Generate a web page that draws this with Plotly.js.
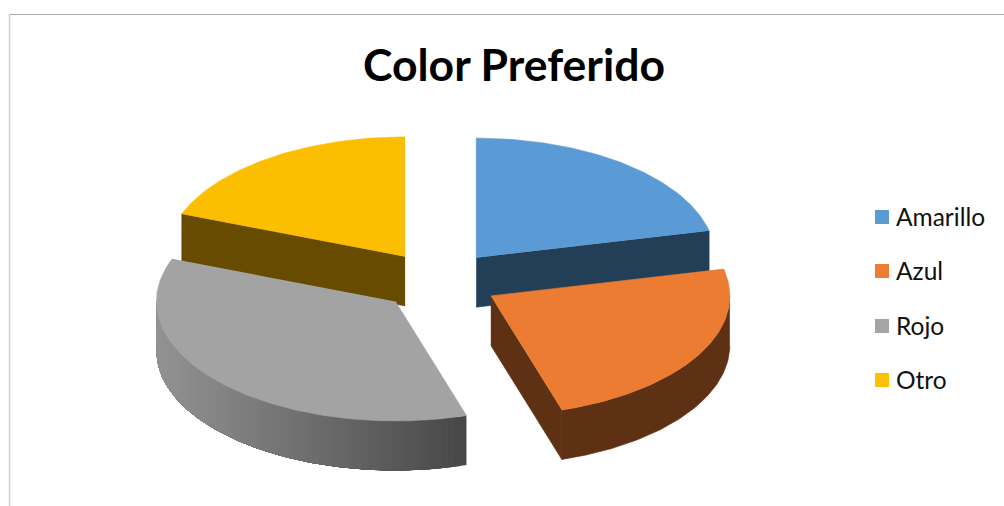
<!DOCTYPE html>
<html><head><meta charset="utf-8">
<script src="https://cdn.plot.ly/plotly-3.0.1.min.js"></script>
<style>html,body{margin:0;padding:0;background:#fff;overflow:hidden}#c{width:1004px;height:506px}</style>
</head><body><div id="c"></div>
<script>
const categories = ["Amarillo", "Azul", "Rojo", "Otro"];
const shares = [21.4, 23.8, 35.6, 19.2];
const chartTitle = "Color Preferido";
const topColors = ["#5B9BD5", "#EB7C31", "#A3A3A3", "#FBBE00"];
const legendColors = ["#5B9BD5", "#ED7D31", "#A5A5A5", "#FFC000"];
const wallColors = ["#233F58", "#5F3114", "#808080", "#674B00"];

// projection of the tilted pie
const CX = 439, CY = 281, RX = 239, RY = 119.5, DEPTH = 49.5, PULL = 0.25;
const FONT = "Lato, Carlito, Calibri, sans-serif";

const total = shares.reduce((a, b) => a + b, 0);
const rad = d => d * Math.PI / 180;
let acc = 0;
const slices = shares.map((v, i) => {
  const a0 = acc, a1 = acc + v / total * 360; acc = a1;
  const m = rad((a0 + a1) / 2);
  return {i, a0, a1, ax: CX + PULL * RX * Math.sin(m), ay: CY - PULL * RY * Math.cos(m)};
});
const rim = (s, t, dz) => [s.ax + RX * Math.sin(rad(t)), s.ay - RY * Math.cos(rad(t)) + (dz || 0)];
const poly = (pts, color, w) => ({
  type: "scatter", mode: "lines", x: pts.map(p => p[0]), y: pts.map(p => p[1]),
  fill: "toself", fillcolor: color, line: {color, width: w === undefined ? 0.6 : w}, hoverinfo: "skip", showlegend: false
});
function arc(s, from, to, dz) {
  const out = [], n = Math.max(2, Math.ceil(Math.abs(to - from)));
  for (let k = 0; k <= n; k++) out.push(rim(s, from + (to - from) * k / n, dz));
  return out;
}
const cutWall = s => t => {
  const e = rim(s, t);
  return poly([[s.ax, s.ay], e, [e[0], e[1] + DEPTH], [s.ax, s.ay + DEPTH]], wallColors[s.i]);
};
const flatWall = (s, from, to) => poly(arc(s, from, to, 0).concat(arc(s, to, from, DEPTH)), wallColors[s.i]);
// Each band reaches to the far end, so the next one paints over it with no seam showing.
function shadedWall(s, from, to) {
  const traces = [], step = 1.5;
  for (let t = from; t < to; t += step) {
    const x = s.ax + RX * Math.sin(rad(t + step / 2));
    const g = Math.round(0x93 + (0x47 - 0x93) * (x - 155) / (467 - 155));
    const color = `rgb(${g},${g},${g})`;
    traces.push(poly(arc(s, t, to, 0).concat(arc(s, to, t, DEPTH)), color, 0));
  }
  return traces;
}
const topFace = s => poly([[s.ax, s.ay]].concat(arc(s, s.a0, s.a1, 0)), topColors[s.i]);

const [am, az, ro, ot] = slices;
const data = [
  cutWall(ot)(ot.a0), topFace(ot),
  cutWall(am)(am.a1), topFace(am),
  shadedWall(ro, ro.a0, 270), topFace(ro),
  cutWall(az)(az.a1), flatWall(az, 90, az.a1), topFace(az)
].flat();

const legendY = [217, 271, 326, 380];
data.push({
  type: "scatter", mode: "markers", x: categories.map(() => 882), y: legendY,
  marker: {symbol: "square", size: 14, color: legendColors, line: {width: 0}},
  text: categories, hoverinfo: "text", showlegend: false
});

const layout = {
  width: 1004, height: 506, autosize: false,
  margin: {l: 0, r: 0, t: 0, b: 0}, paper_bgcolor: "#fff", plot_bgcolor: "#fff", showlegend: false,
  title: {text: "<b>" + chartTitle + "</b>", x: 514 / 1004, xanchor: "center", y: 1 - 65 / 506, yanchor: "middle",
          font: {family: FONT, size: 44.5, color: "#000"}},
  xaxis: {range: [0, 1004], visible: false, fixedrange: true},
  yaxis: {range: [506, 0], visible: false, fixedrange: true},
  shapes: [
    {type: "line", xref: "x", yref: "y", x0: 9, x1: 1004, y0: 14.5, y1: 14.5, line: {color: "#a8a8a8", width: 1}},
    {type: "line", xref: "x", yref: "y", x0: 9.5, x1: 9.5, y0: 14, y1: 506, line: {color: "#cfcfcf", width: 1.5}}
  ],
  annotations: categories.map((c, i) => ({
    text: c, x: 895, y: legendY[i] - 1, xref: "x", yref: "y", xanchor: "left", yanchor: "middle",
    showarrow: false, borderpad: 0, font: {family: FONT, size: 24.5, color: "#111"}
  }))
};
Plotly.newPlot("c", data, layout, {displayModeBar: false, staticPlot: true});
</script></body></html>
